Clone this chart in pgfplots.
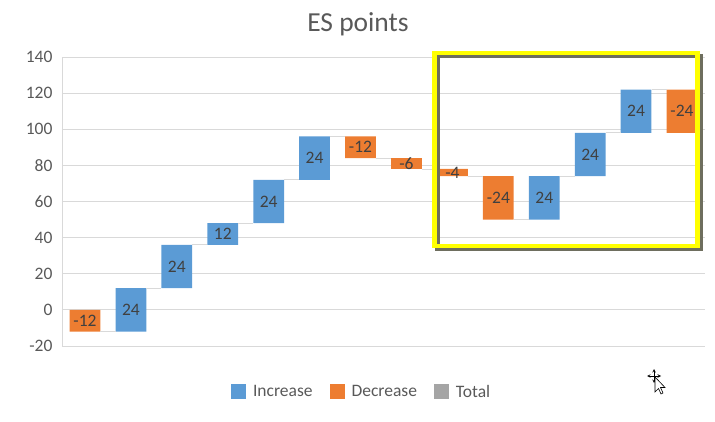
\documentclass[border=0pt]{standalone}
\usepackage{pgfplots}
\pgfplotsset{compat=1.18}
\usepackage{pgfplotstable}
\usepackage{fontspec}
\setmainfont{Carlito}
\definecolor{incblue}{HTML}{5B9BD5}
\definecolor{decorange}{HTML}{ED7D31}
\definecolor{totgray}{HTML}{A5A5A5}
\definecolor{txtgray}{HTML}{595959}
\definecolor{lblgray}{HTML}{404040}
\definecolor{gridgray}{HTML}{D9D9D9}
\definecolor{hilite}{HTML}{FFFF00}
\definecolor{shadowc}{HTML}{6E6E5E}

\pgfplotstableread{
x base inc dec
1 -12 0 12
2 -12 24 0
3 12 24 0
4 36 12 0
5 48 24 0
6 72 24 0
7 84 0 12
8 78 0 6
9 74 0 4
10 50 0 24
11 50 24 0
12 74 24 0
13 98 24 0
14 98 0 24
}\bars

\pgfplotstableread{
x y label
1 -6 -12
2 0 24
3 24 24
4 42 12
5 60 24
6 84 24
7 90 -12
8 81 -6
9 76 -4
10 62 -24
11 62 24
12 86 24
13 110 24
14 110 -24
}\labels

\pgfplotsset{wf/.style={width=643bp,height=289bp,scale only axis,
  xmin=0.5,xmax=14.5,ymin=-20,ymax=140,at={(0,0)},anchor=south west},
  sqlegend/.style={legend image code/.code={\fill[##1] (0bp,-7.5bp) rectangle (15bp,7.5bp);}}}
\newcommand{\tfont}{\fontsize{17.5bp}{20bp}\selectfont}

\begin{document}
\begin{tikzpicture}
\path[use as bounding box] (-62bp,-76bp) rectangle (653bp,346bp);
\begin{axis}[wf,
  ybar stacked, stack negative=on previous, bar width=0.67,
  xtick=\empty,
  ytick={-20,0,20,40,60,80,100,120,140},
  ymajorgrids, grid style={gridgray, line width=0.75bp},
  axis x line*=bottom, axis y line*=left,
  axis line style={gridgray, line width=0.75bp, -},
  major tick length=0pt,
  tick label style={font=\tfont, text=txtgray},
  /pgf/number format/assume math mode=true,
  yticklabel style={xshift=-6bp},
  legend style={at={(0.466,-0.159)}, anchor=center, draw=none, fill=none,
    font=\tfont, text=txtgray, legend columns=3,
    /tikz/every odd column/.append style={column sep=5bp},
    /tikz/every even column/.append style={column sep=15bp}},
  every axis plot post/.append style={sqlegend},
]
\addplot[draw=none, fill=none, forget plot] table[x=x, y=base] {\bars};
\addplot[draw=none, fill=incblue] table[x=x, y=inc] {\bars};
\addlegendentry{Increase}
\addplot[draw=none, fill=decorange] table[x=x, y=dec] {\bars};
\addlegendentry{Decrease}
\addlegendimage{draw=none, fill=totgray, sqlegend}
\addlegendentry{Total}
\end{axis}
\begin{axis}[wf, hide axis, clip=false]
\addplot[gridgray, line width=0.75bp, unbounded coords=jump] coordinates {
(1.335,-12) (1.665,-12) (1.5,nan)
(2.335,12) (2.665,12) (2.5,nan)
(3.335,36) (3.665,36) (3.5,nan)
(4.335,48) (4.665,48) (4.5,nan)
(5.335,72) (5.665,72) (5.5,nan)
(6.335,96) (6.665,96) (6.5,nan)
(7.335,84) (7.665,84) (7.5,nan)
(8.335,78) (8.665,78) (8.5,nan)
(9.335,74) (9.665,74) (9.5,nan)
(10.335,50) (10.665,50) (10.5,nan)
(11.335,74) (11.665,74) (11.5,nan)
(12.335,98) (12.665,98) (12.5,nan)
(13.335,122) (13.665,122)
};
\addplot[draw=none, mark=none, nodes near coords, point meta=explicit symbolic,
  nodes near coords align=center,
  every node near coord/.append style={font=\tfont, text=lblgray, inner sep=0pt}]
  table[x=x, y=y, meta=label] {\labels};
\draw[shadowc, line width=4.5bp, xshift=3bp, yshift=-3bp] (axis cs:8.609,142.2) rectangle (axis cs:14.337,35.36);
\draw[hilite, line width=4.5bp] (axis cs:8.609,142.2) rectangle (axis cs:14.337,35.36);
\end{axis}
\node[anchor=base, font=\fontsize{27.5bp}{30bp}\selectfont, text=txtgray] at (296bp,314bp) {ES points};
% mouse cursor
\begin{scope}[shift={(592bp,-30bp)}, line width=0.6bp]
\draw[-stealth] (0,0) -- (-7bp,0); \draw[-stealth] (0,0) -- (7bp,0);
\draw[-stealth] (0,0) -- (0,7bp); \draw[-stealth] (0,0) -- (0,-7bp);
\filldraw[fill=white, draw=black] (1bp,-1bp) -- (1bp,-16bp) -- (4.5bp,-12.5bp) -- (7bp,-18bp) -- (9bp,-17bp) -- (6.5bp,-11.5bp) -- (11bp,-11.5bp) -- cycle;
\end{scope}
\end{tikzpicture}
\end{document}
